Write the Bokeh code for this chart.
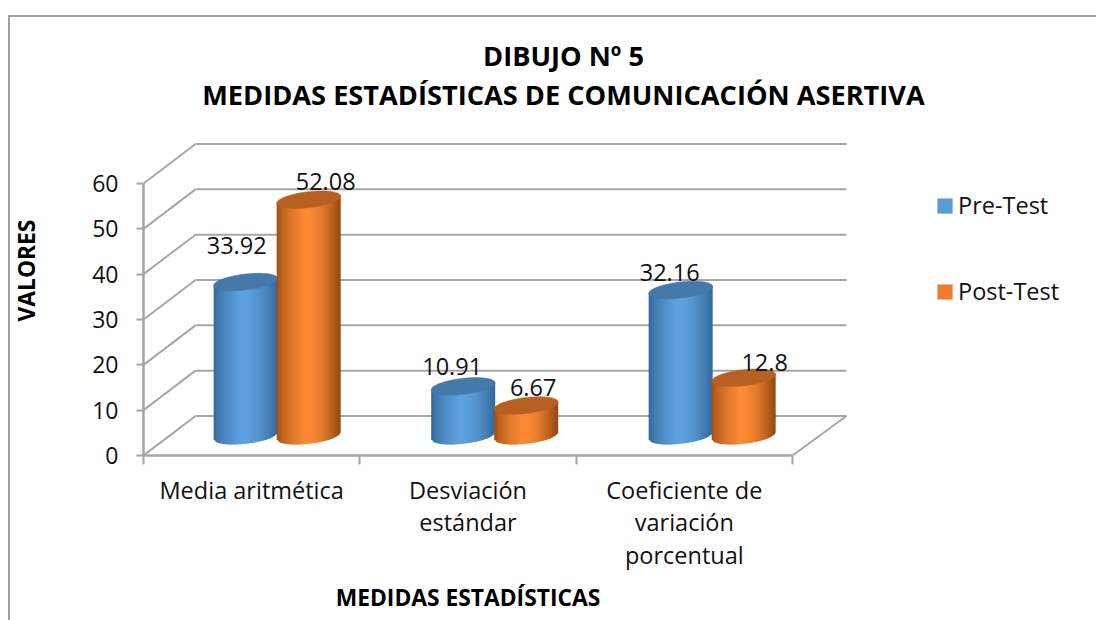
from bokeh.plotting import figure
from bokeh.models import (ColumnDataSource, FixedTicker, Legend, LegendItem, Label)
from bokeh.embed import file_html
from bokeh.resources import INLINE
from bokeh.core.properties import value
import math

categories = ["Media aritmética", "Desviación\nestándar", "Coeficiente de\nvariación\nporcentual"]
pre_test = [33.92, 10.91, 32.16]
post_test = [52.08, 6.67, 12.8]
y_ticks = [0, 10, 20, 30, 40, 50, 60]
series_names = ["Pre-Test", "Post-Test"]
title_lines = ["DIBUJO Nº 5", "MEDIDAS ESTADÍSTICAS DE COMUNICACIÓN ASERTIVA"]
x_title = "MEDIDAS ESTADÍSTICAS"
y_title = "VALORES"

FONT = "Open Sans"
W, H = 1088, 605
ML, MR, MT, MB = 133, 0, 0, 167
frame_w = W - ML - MR
frame_h = H - MT - MB
PX_X = 216.33   # px per category
PX_Y = 4.533    # px per value unit
DX = 52 / PX_X
DY = 39.5 / PX_Y
BAR_STEP = 217.5 / PX_X
GRID = "#a6a6a6"
TXT = "#111111"

p = figure(width=W, height=H, output_backend="svg", toolbar_location=None,
           x_range=(0, frame_w / PX_X), y_range=(0, frame_h / PX_Y),
           min_border_left=ML, min_border_right=MR, min_border_top=MT, min_border_bottom=MB,
           outline_line_color=None)
p.styles = {"margin-left": "8px", "margin-top": "15px",
            "border-left": "2px solid #a0a0a0", "border-top": "2px solid #a0a0a0"}
p.xgrid.visible = False
p.ygrid.visible = False

# axes
xa = p.xaxis[0]
xa.ticker = FixedTicker(ticks=[i + 0.5 for i in range(len(categories))],
                        minor_ticks=list(range(len(categories) + 1)))
xa.major_label_overrides = {i + 0.5: c for i, c in enumerate(categories)}
xa.bounds = (0, len(categories))
xa.major_tick_out = 0
xa.major_tick_in = 0
xa.minor_tick_out = 9
xa.minor_tick_in = 0
xa.minor_tick_line_color = GRID
xa.minor_tick_line_width = 2
xa.axis_line_color = GRID
xa.axis_line_width = 2.5
xa.major_label_text_font = FONT
xa.major_label_text_font_size = "23.5px"
xa.major_label_text_color = TXT
xa.major_label_standoff = 9
xa.major_label_text_line_height = 1.03

ya = p.yaxis[0]
ya.ticker = FixedTicker(ticks=y_ticks)
ya.bounds = (y_ticks[0], y_ticks[-1])
ya.major_tick_out = 7
ya.major_tick_in = 0
ya.major_tick_line_color = GRID
ya.major_tick_line_width = 2
ya.minor_tick_out = 0
ya.minor_tick_in = 0
ya.axis_line_color = GRID
ya.axis_line_width = 2.5
ya.major_label_text_font = FONT
ya.major_label_text_font_size = "23px"
ya.major_label_text_color = TXT
ya.major_label_standoff = 18

# axis titles, placed in the side panels because they sit off-centre
p.add_layout(Label(x=1.5, y=8, x_units="data", y_units="screen", text=x_title,
                   text_font=FONT, text_font_size="22.8px", text_font_style="bold",
                   text_align="center", text_baseline="middle", text_color="#000000"), "below")
p.add_layout(Label(x=-32, y=40.8, x_units="screen", y_units="data", text=y_title, angle=math.pi / 2,
                   text_font=FONT, text_font_size="22.8px", text_font_style="bold",
                   text_align="center", text_baseline="middle", text_color="#000000"), "left")

# 3D walls
n_cat = len(categories)
RIGHT = n_cat + DX + 2 / PX_X
p.segment([0] * len(y_ticks), y_ticks, [DX] * len(y_ticks), [v + DY for v in y_ticks],
          line_color=GRID, line_width=2)
p.segment([DX] * len(y_ticks), [v + DY for v in y_ticks], [RIGHT] * len(y_ticks),
          [v + DY for v in y_ticks], line_color=GRID, line_width=2)
p.segment([n_cat], [0], [RIGHT], [DY], line_color=GRID, line_width=2)


def lerp(a, b, t):
    return tuple(a[i] + (b[i] - a[i]) * t for i in range(3))


def hexc(c):
    return "#%02x%02x%02x" % tuple(int(round(x)) for x in c)


def shade(t, edgeL, edgeR, mid):
    # t in [-1, 1]; brightest slightly left of centre
    if t < -0.1:
        f = (t + 1) / 0.9
        return hexc(lerp(edgeL, mid, f ** 0.6))
    f = (t + 0.1) / 1.1
    return hexc(lerp(mid, edgeR, f ** 1.7))


STYLE = [
    dict(edgeL=(0x2f, 0x63, 0x94), edgeR=(0x33, 0x68, 0x9a), mid=(0x5f, 0xa2, 0xe0), cap="#4579a9"),
    dict(edgeL=(0x96, 0x4b, 0x12), edgeR=(0x8f, 0x47, 0x10), mid=(0xff, 0x8a, 0x35), cap="#b86022"),
]

R = 32 / PX_X          # radius in category units
B = 8 / PX_Y           # cap half height in value units
TILT = 3.5 / PX_Y      # cap rise over a radius
SERIES_OFF = [-32 / PX_X, 31 / PX_X]
N = 32


def bar_x(ci, si):
    return 0.5 + ci * BAR_STEP + DX / 2 + SERIES_OFF[si]


for ci in range(n_cat):
    for si, vals in enumerate([pre_test, post_test]):
        st = STYLE[si]
        cx = bar_x(ci, si)
        base = DY / 2
        top = base + vals[ci]
        xs, ys, cols = [], [], []
        for k in range(N):
            t0 = -1 + 2 * k / N
            t1 = min(1, -1 + 2 * (k + 1.6) / N)
            y0b = base + TILT * t0 - B * math.sqrt(max(0, 1 - t0 * t0))
            y1b = base + TILT * t1 - B * math.sqrt(max(0, 1 - t1 * t1))
            y0t = top + TILT * t0
            y1t = top + TILT * t1
            xs.append([cx + R * t0, cx + R * t1, cx + R * t1, cx + R * t0])
            ys.append([y0b, y1b, y1t, y0t])
            cols.append(shade(-1 + 2 * (k + 0.5) / N, st["edgeL"], st["edgeR"], st["mid"]))
        p.patches(xs, ys, fill_color=cols, line_color=None)
        ang = [2 * math.pi * a / 72 for a in range(72)]
        p.patch([cx + R * math.cos(a) for a in ang],
                [top + TILT * math.cos(a) + B * math.sin(a) for a in ang],
                fill_color=st["cap"], line_color=st["cap"], line_width=0.5)

# data labels
lab_x, lab_y, lab_t, lab_dx, lab_dy = [], [], [], [], []
off_pre = [(-9, -36), (-11, -20), (-11, -17)]
off_post = [(17, -18), (7, -18), (21, -15)]
for ci in range(n_cat):
    for si, (vals, off) in enumerate(zip([pre_test, post_test], [off_pre, off_post])):
        lab_x.append(bar_x(ci, si))
        lab_y.append(DY / 2 + vals[ci])
        lab_t.append(str(vals[ci]))
        lab_dx.append(off[ci][0])
        lab_dy.append(off[ci][1])
src = ColumnDataSource(dict(x=lab_x, y=lab_y, t=lab_t, dx=lab_dx, dy=lab_dy))
p.text("x", "y", text="t", x_offset="dx", y_offset="dy", source=src, text_align="center",
       text_baseline="middle", text_font=value(FONT), text_font_size="23.5px", text_color=TXT)

# titles (screen units here are measured from the plot area's lower-left corner)
for line, ty in zip(title_lines, [400, 361]):
    p.add_layout(Label(x=420, y=ty, x_units="screen", y_units="screen", text=line,
                       text_font=FONT, text_font_size="27.2px", text_font_style="bold",
                       text_align="center", text_baseline="middle", text_color="#000000"))

# legend
nan = float("nan")
r1 = p.quad(left=[nan], right=[nan], bottom=[nan], top=[nan], fill_color="#5b9bd5", line_color=None)
r2 = p.quad(left=[nan], right=[nan], bottom=[nan], top=[nan], fill_color="#ed7d31", line_color=None)
legend = Legend(items=[LegendItem(label=series_names[0], renderers=[r1]),
                       LegendItem(label=series_names[1], renderers=[r2])],
                location=(792, 148), border_line_color=None, background_fill_alpha=0,
                label_text_font=FONT, label_text_font_size="23.5px", label_text_color=TXT,
                glyph_width=19, glyph_height=19, spacing=54, padding=0, margin=0,
                label_standoff=4)
p.add_layout(legend, "center")

open("out.html", "w").write(file_html(p, INLINE))
